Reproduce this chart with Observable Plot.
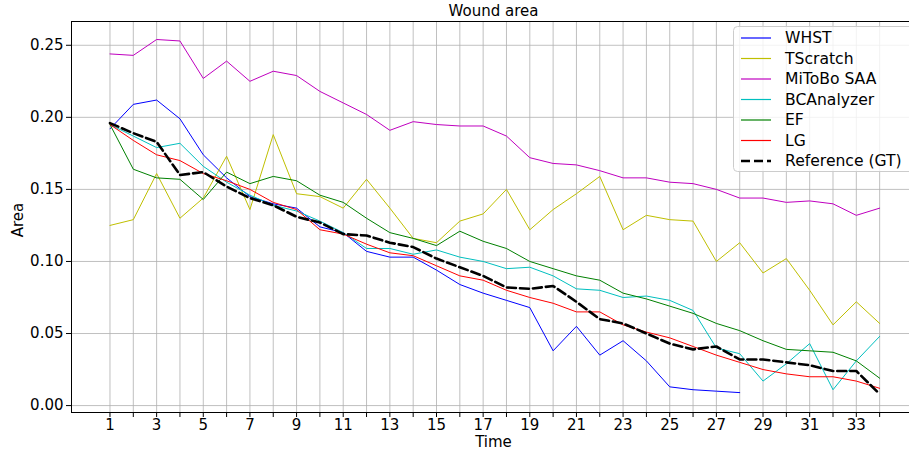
<!DOCTYPE html>
<html><head><meta charset="utf-8">
<script src="https://cdn.jsdelivr.net/npm/d3@7"></script>
<script src="https://cdn.jsdelivr.net/npm/@observablehq/plot@0.6"></script>
<style>
body{margin:0;background:#fff;}
#wrap{position:relative;width:909px;height:452px;overflow:hidden;font-family:"DejaVu Sans",sans-serif;}
#legend{position:absolute;left:733px;top:26px;}
</style>
</head><body>
<div id="wrap"></div>
<script>
const time = [1,2,3,4,5,6,7,8,9,10,11,12,13,14,15,16,17,18,19,20,21,22,23,24,25,26,27,28,29,30,31,32,33,34];
const yTicks = [0, 0.05, 0.10, 0.15, 0.20, 0.25];

const whst = [0.192,0.209,0.212,0.199,0.174,0.158,0.145,0.140,0.137,0.124,0.120,0.107,0.103,0.103,0.094,0.084,0.078,0.073,0.068,0.038,0.055,0.035,0.045,0.031,0.013,0.011,0.010,0.009];
const tscratch = [0.125,0.129,0.161,0.130,0.144,0.173,0.136,0.188,0.147,0.145,0.137,0.157,0.137,0.116,0.113,0.128,0.133,0.150,0.122,0.136,0.147,0.159,0.122,0.132,0.129,0.128,0.100,0.113,0.092,0.102,0.080,0.056,0.072,0.057];
const mitobo = [0.244,0.243,0.254,0.253,0.227,0.239,0.225,0.232,0.229,0.218,0.210,0.202,0.191,0.197,0.195,0.194,0.194,0.187,0.172,0.168,0.167,0.163,0.158,0.158,0.155,0.154,0.150,0.144,0.144,0.141,0.142,0.140,0.132,0.137];
const bcanalyzer = [0.195,0.187,0.179,0.182,0.166,0.155,0.146,0.139,0.135,0.128,0.120,0.109,0.109,0.105,0.108,0.103,0.100,0.095,0.096,0.090,0.081,0.080,0.075,0.076,0.073,0.066,0.040,0.036,0.017,0.029,0.043,0.011,0.031,0.048];
const ef = [0.195,0.164,0.158,0.157,0.143,0.162,0.154,0.159,0.156,0.146,0.141,0.130,0.120,0.116,0.111,0.121,0.114,0.109,0.100,0.095,0.090,0.087,0.078,0.074,0.069,0.064,0.057,0.052,0.045,0.039,0.038,0.037,0.031,0.019];
const lg = [0.195,0.184,0.174,0.170,0.161,0.156,0.150,0.141,0.136,0.122,0.119,0.112,0.106,0.104,0.097,0.090,0.087,0.080,0.075,0.071,0.065,0.065,0.056,0.051,0.047,0.041,0.035,0.030,0.025,0.022,0.020,0.020,0.017,0.012];
const gt = [0.196,0.189,0.183,0.160,0.162,0.152,0.144,0.139,0.131,0.127,0.119,0.118,0.113,0.110,0.102,0.096,0.090,0.082,0.081,0.083,0.072,0.060,0.057,0.050,0.043,0.039,0.041,0.032,0.032,0.030,0.028,0.024,0.024,0.008];

const seriesNames = ["WHST","TScratch","MiToBo SAA","BCAnalyzer","EF","LG","Reference (GT)"];
const seriesValues = [whst, tscratch, mitobo, bcanalyzer, ef, lg, gt];
const seriesColors = ["#0000ff","#bfbf00","#bf00bf","#00bfbf","#008000","#ff0000","#000000"];

const lineMarks = seriesValues.map((vals, k) => {
  const isGT = k === 6;
  return Plot.line(time, {
    x: d => d,
    y: (d, i) => vals[i],
    stroke: seriesColors[k],
    strokeWidth: isGT ? 2.6 : 1,
    strokeDasharray: isGT ? "9,4" : null,
    curve: "linear"
  });
});

const chart = Plot.plot({
  width: 909,
  height: 452,
  marginLeft: 71,
  marginRight: 0,
  marginTop: 21,
  marginBottom: 40,
  style: {fontFamily: "DejaVu Sans", fontSize: "15px", background: "white", color: "#000"},
  x: {domain: [-0.65, 35.28]},
  y: {domain: [-0.0048, 0.2665]},
  marks: [
    Plot.gridX(time, {stroke: "#b0b0b0", strokeOpacity: 0.8, strokeWidth: 1}),
    Plot.gridY(yTicks, {stroke: "#b0b0b0", strokeOpacity: 0.8, strokeWidth: 1}),
    Plot.axisX(time, {tickFormat: d => (d % 2 === 1 ? String(d) : ""), tickSize: 5, tickPadding: 2, label: null, fontSize: 15}),
    Plot.axisY(yTicks, {tickFormat: d3.format(".2f"), tickSize: 5, tickPadding: 3, label: null, fontSize: 15}),
    ...lineMarks,
    Plot.frame({anchor: "left", stroke: "#000"}),
    Plot.frame({anchor: "bottom", stroke: "#000"}),
    Plot.frame({anchor: "top", stroke: "#000"}),
    Plot.text(["Wound area"], {text: d => d, frameAnchor: "top", lineAnchor: "middle", dx: 3, dy: -10, fontSize: 15}),
    Plot.text(["Time"], {text: d => d, frameAnchor: "bottom", lineAnchor: "middle", dx: 3, dy: 30, fontSize: 15}),
    Plot.text(["Area"], {text: d => d, frameAnchor: "left", textAnchor: "middle", lineAnchor: "middle", dx: -53, dy: 3, rotate: -90, fontSize: 15})
  ]
});
const wrap = document.getElementById("wrap");
wrap.appendChild(chart);

// Legend overlay
const lw = 180, rowH = 20.5, lh = 146;
const leg = d3.select(wrap).append("svg").attr("id", "legend")
  .attr("width", lw).attr("height", lh)
  .style("font-family", "DejaVu Sans").style("font-size", "15.6px");
leg.append("rect").attr("x", 0.5).attr("y", 0.5).attr("width", lw + 10).attr("height", lh - 1)
  .attr("rx", 4).attr("fill", "white").attr("fill-opacity", 0.8).attr("stroke", "#cccccc");
seriesNames.forEach((name, k) => {
  const cy = 12 + k * rowH;
  leg.append("line").attr("x1", 8).attr("x2", 38).attr("y1", cy).attr("y2", cy)
    .attr("stroke", seriesColors[k])
    .attr("stroke-width", k === 6 ? 2.6 : 1.2)
    .attr("stroke-dasharray", k === 6 ? "9,4" : null);
  leg.append("text").attr("x", 52).attr("y", cy).attr("dy", "0.35em").text(name);
});
</script>
</body></html>
